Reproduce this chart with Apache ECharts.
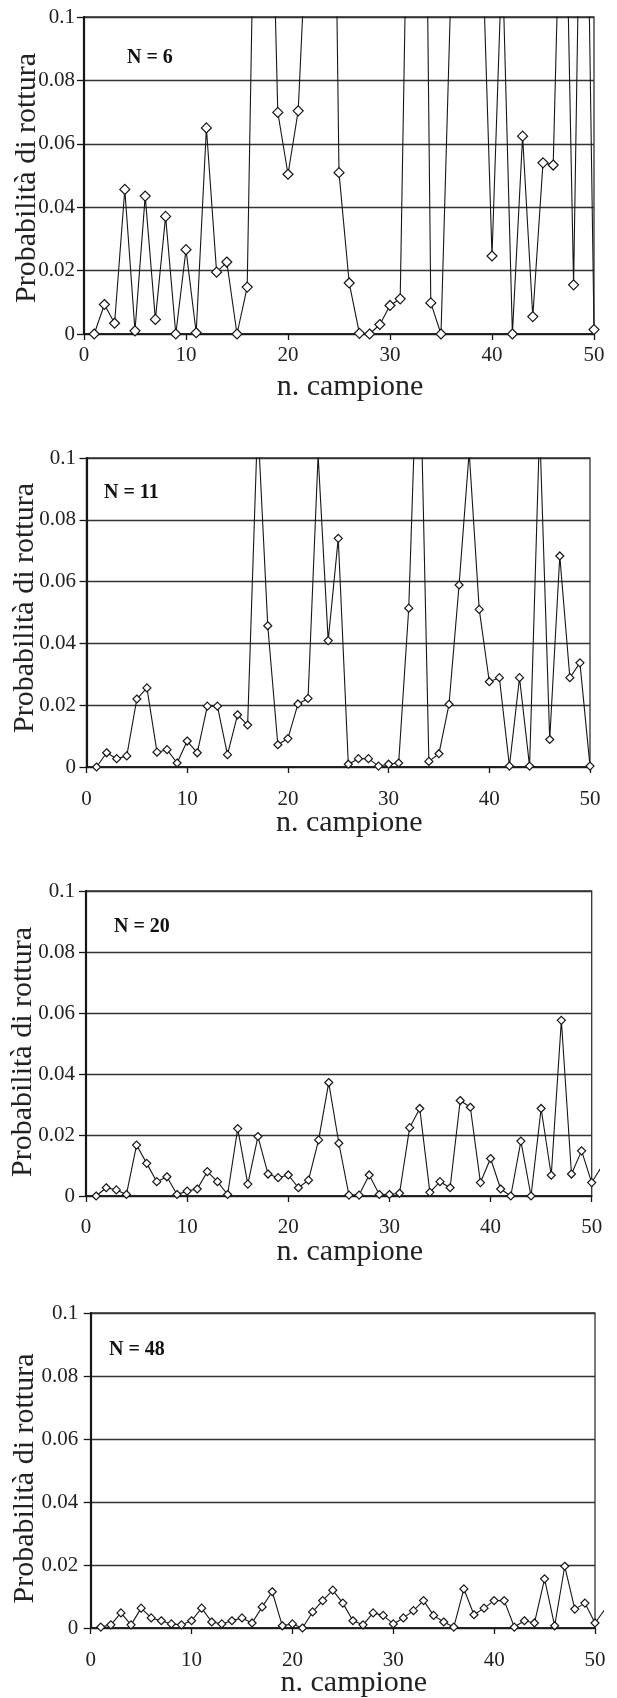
<!DOCTYPE html>
<html>
<head>
<meta charset="utf-8">
<script src="https://cdn.jsdelivr.net/npm/echarts@6/dist/echarts.min.js"></script>
<style>
html,body{margin:0;padding:0;background:#fff}
#c{width:617px;height:1698px}
</style>
</head>
<body>
<div id="c"></div>
<script>
// ---- data ----
const samples = [1,2,3,4,5,6,7,8,9,10,11,12,13,14,15,16,17,18,19,20,21,22,23,24,25,26,27,28,29,30,31,32,33,34,35,36,37,38,39,40,41,42,43,44,45,46,47,48,49,50];
const xTickLabels = ['0','10','20','30','40','50'];
const yTickLabels = ['0','0.02','0.04','0.06','0.08','0.1'];
const panelLabels = ['N = 6','N = 11','N = 20','N = 48'];
const xTitle = 'n. campione';
const yTitle = 'Probabilità di rottura';

const probN6 = [0, 0.0093, 0.0034, 0.0456, 0.001, 0.0435, 0.0046, 0.0371, 0, 0.0266,
  0.0004, 0.065, 0.0195, 0.0227, 0, 0.0148, 0.2, 0.2, 0.0699, 0.0504,
  0.0704, 0.14, 0.3, 0.3, 0.0509, 0.0161, 0.0002, 0, 0.003, 0.009,
  0.0111, 0.2, 0.31, 0.0098, 0, 0.112, 0.2, 0.2, 0.128, 0.0246,
  0.12, 0, 0.0624, 0.0055, 0.054, 0.0533, 0.18, 0.0155, 0.22, 0.0014];
const probN11 = [0, 0.0046, 0.0027, 0.0036, 0.022, 0.0256, 0.0048, 0.0056, 0.0013, 0.0084,
  0.0046, 0.0197, 0.0197, 0.004, 0.0169, 0.0136, 0.112, 0.0457, 0.0072, 0.0092,
  0.0204, 0.0222, 0.101, 0.0409, 0.074, 0.0009, 0.0027, 0.0027, 0.0003, 0.0009,
  0.0013, 0.0514, 0.15, 0.0018, 0.0043, 0.0203, 0.0589, 0.102, 0.051, 0.0276,
  0.0289, 0.0003, 0.0289, 0.0003, 0.11, 0.0089, 0.0683, 0.0289, 0.0337, 0.0003];
const probN20 = [0, 0.0027, 0.002, 0.0005, 0.0167, 0.0107, 0.0047, 0.0063, 0.0005, 0.0016,
  0.0023, 0.008, 0.0047, 0.0005, 0.0221, 0.0039, 0.0195, 0.0072, 0.006, 0.0069,
  0.0027, 0.0052, 0.0184, 0.0372, 0.0173, 0.0003, 0.0003, 0.0069, 0.0005, 0.0005,
  0.0009, 0.0224, 0.0287, 0.0012, 0.0047, 0.0027, 0.0313, 0.0291, 0.0044, 0.0123,
  0.0023, 0, 0.018, 0, 0.0287, 0.0068, 0.0576, 0.0072, 0.0148, 0.0044];
const probN48 = [0.0003, 0.001, 0.0048, 0.001, 0.0063, 0.0032, 0.0023, 0.0013, 0.001, 0.0023,
  0.0063, 0.0019, 0.0013, 0.0023, 0.0032, 0.0016, 0.0067, 0.0115, 0.0007, 0.0013,
  0, 0.0051, 0.0087, 0.012, 0.0079, 0.0023, 0.001, 0.0048, 0.004, 0.0013,
  0.0032, 0.0055, 0.0087, 0.004, 0.0019, 0.0003, 0.0124, 0.0042, 0.0063, 0.0087,
  0.0087, 0.0003, 0.0023, 0.0016, 0.0156, 0.0007, 0.0196, 0.006, 0.0079, 0.0016];
// sample 51 (only the start of its segment is visible past the axis end)
const nextSample = 51;
const nextN20 = 0.0097;
const nextN48 = 0.006;

// ---- layout ----
const serif = "'Liberation Serif','DejaVu Serif','Times New Roman',serif";
const ink = '#161616';
const layouts = [
  {left:84,   top:17,   width:510,   height:317, sym:10, xm:10.5, xg:38, ym:9,    yg:42,   yp:[0,5,0,0],  nx:127, ny:48,   tail:0},
  {left:86.5, top:458,  width:503.5, height:309, sym:8,  xm:21.5, xg:41, ym:10.6, yg:46.5, yp:[0,0,0,9],  nx:104, ny:483,  tail:0},
  {left:86,   top:891,  width:505.7, height:305, sym:8,  xm:20.5, xg:41, ym:11,   yg:48,   yp:[0,17,0,0], nx:114, ny:917,  tail:7},
  {left:90.7, top:1313, width:504.3, height:315, sym:8,  xm:21.5, xg:40, ym:12.4, yg:51,   yp:[0,16,0,0], nx:109, ny:1340, tail:7}
];
const seriesVals = [probN6, probN11, probN20, probN48];
const tails = [null, null, [nextSample, nextN20], [nextSample, nextN48]];

const grid = [], xAxis = [], yAxis = [], series = [], title = [];

layouts.forEach((L, k) => {
  grid.push({left:L.left, top:L.top, width:L.width, height:L.height, outerBoundsMode:'none',
    show:true, borderColor:'#333', borderWidth:1.3, backgroundColor:'transparent', containLabel:false});
  xAxis.push({
    type:'value', gridIndex:k, min:0, max:50, interval:10,
    axisLine:{show:true, onZero:false, lineStyle:{color:ink, width:1.6}},
    axisTick:{show:true, inside:false, length:6, lineStyle:{color:ink, width:1.3}},
    splitLine:{show:false},
    axisLabel:{margin:L.xm, color:'#222', fontFamily:serif, fontSize:21,
      formatter:(v)=>xTickLabels[Math.round(v/10)]},
    name:xTitle, nameLocation:'middle', nameGap:L.xg, nameMoveOverlap:false,
    nameTextStyle:{fontFamily:serif, fontSize:30, color:'#222', padding:[0,0,0,22]}
  });
  yAxis.push({
    type:'value', gridIndex:k, min:0, max:0.1, interval:0.02,
    axisLine:{show:true, onZero:false, lineStyle:{color:ink, width:2.2}},
    axisTick:{show:true, inside:false, length:7, lineStyle:{color:ink, width:1.3}},
    splitLine:{show:true, lineStyle:{color:'#333', width:1.3}},
    axisLabel:{margin:L.ym, color:'#222', fontFamily:serif, fontSize:21,
      formatter:(v)=>yTickLabels[Math.round(v/0.02)]},
    name:yTitle, nameLocation:'middle', nameGap:L.yg, nameRotate:90, nameMoveOverlap:false,
    nameTextStyle:{fontFamily:serif, fontSize:30, color:'#222', padding:L.yp}
  });
  series.push({
    type:'line', xAxisIndex:k, yAxisIndex:k, clip:true,
    data: samples.map((s,i)=>[s, seriesVals[k][i]]),
    symbol:'diamond', symbolSize:L.sym, showAllSymbol:true,
    lineStyle:{color:ink, width:1.1},
    itemStyle:{color:'#fff', borderColor:ink, borderWidth:1.2},
    emphasis:{disabled:true}, animation:false, z:3
  });
  title.push({text:panelLabels[k], left:L.nx, top:L.ny, padding:0,
    textStyle:{fontFamily:serif, fontWeight:'bold', fontSize:20, color:'#111'}});
});

// overlay grids for the segment that runs past the last sample
layouts.forEach((L, k) => {
  if (!tails[k]) return;
  const gi = grid.length;
  const w = L.width + L.tail;
  grid.push({left:L.left, top:L.top, width:w, height:L.height, show:false, outerBoundsMode:'none'});
  xAxis.push({type:'value', gridIndex:gi, min:0, max:50*w/L.width, show:false});
  yAxis.push({type:'value', gridIndex:gi, min:0, max:0.1, show:false});
  const last = samples.length - 1;
  series.push({
    type:'line', xAxisIndex:gi, yAxisIndex:gi, clip:true, showSymbol:false,
    data:[[samples[last], seriesVals[k][last]], tails[k]],
    lineStyle:{color:ink, width:1.1}, emphasis:{disabled:true}, animation:false, z:2
  });
});

const chart = echarts.init(document.getElementById('c'), null, {renderer:'canvas'});
chart.setOption({animation:false, backgroundColor:'#fff', title, grid, xAxis, yAxis, series});
</script>
</body>
</html>
